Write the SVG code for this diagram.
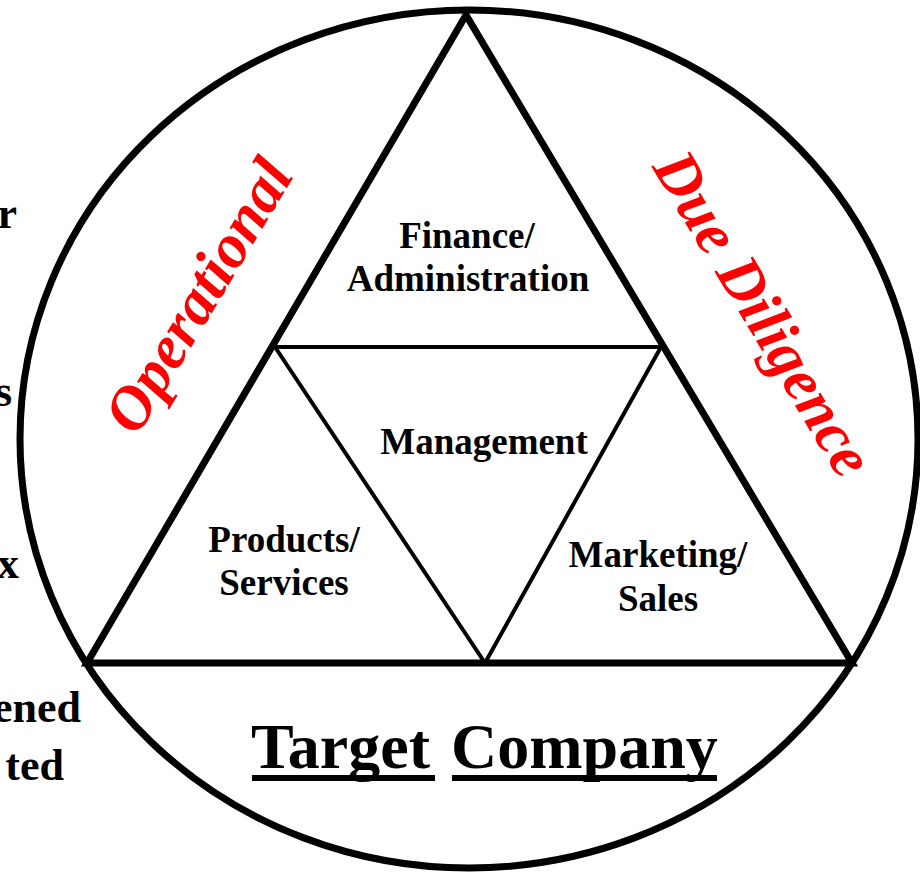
<svg xmlns="http://www.w3.org/2000/svg" width="920" height="874" viewBox="0 0 920 874">
<style>
.lbl{font-family:"Liberation Serif","Times New Roman",serif;font-weight:bold;font-size:37px;fill:#000;text-anchor:middle}
.frag{font-family:"Liberation Serif","Times New Roman",serif;font-weight:bold;font-size:44px;fill:#000;text-anchor:end}
.red{font-family:"Liberation Serif","Times New Roman",serif;font-weight:bold;font-style:italic;font-size:62px;fill:#FF0000;text-anchor:middle}
.title{font-family:"Liberation Serif","Times New Roman",serif;font-weight:bold;font-size:64px;fill:#000}
.thick{fill:none;stroke:#000;stroke-width:7}
.thin{fill:none;stroke:#000;stroke-width:4}
</style>
<rect width="920" height="874" fill="#fff"/>
<g id="fragments">
<text class="frag" x="17" y="228">r</text>
<text class="frag" x="12" y="406">s</text>
<text class="frag" x="19" y="578">x</text>
<text class="frag" x="81" y="722">ened</text>
<text class="frag" x="64" y="780">ted</text>
</g>
<g id="target-company">
<ellipse class="thick" cx="469" cy="439" rx="449" ry="429"/>
<text class="title" x="251" y="768">Target</text>
<text class="title" x="451" y="768">Company</text>
<rect x="252" y="775" width="183" height="6" fill="#000"/>
<rect x="452" y="775" width="265" height="6" fill="#000"/>
</g>
<g id="connectors">
<polygon class="thick" points="466,15 87,663 852,663"/>
<polyline class="thin" points="275,347 661,347 485,663 275,347"/>
</g>
<g id="finance">
<text class="lbl" x="467" y="248">Finance/</text>
<text class="lbl" x="468" y="291">Administration</text>
</g>
<g id="management">
<text class="lbl" x="484" y="454">Management</text>
</g>
<g id="products">
<text class="lbl" x="284" y="552">Products/</text>
<text class="lbl" x="284" y="595">Services</text>
</g>
<g id="marketing">
<text class="lbl" x="658" y="567">Marketing/</text>
<text class="lbl" x="658" y="611">Sales</text>
</g>
<g id="operational">
<text class="red" transform="translate(216,306) rotate(-59)">Operational</text>
</g>
<g id="due-diligence">
<text class="red" transform="translate(746,324) rotate(59)">Due Diligence</text>
</g>
</svg>
